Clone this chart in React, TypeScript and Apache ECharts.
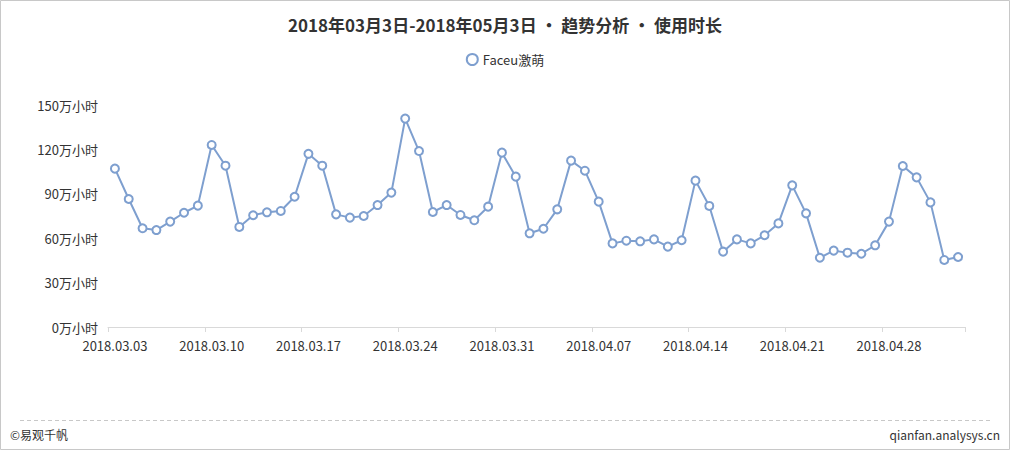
import React, { useEffect, useRef } from "react";
import * as echarts from "echarts";

const seriesName = "Faceu激萌";
const titleText = "2018年03月3日-2018年05月3日 • 趋势分析 • 使用时长";

function buildDates(): string[] {
  // calendar days from 2018-03-03 to 2018-05-03 (category labels)
  const out: string[] = [];
  const mar = 31, apr = 30;
  for (let d = 3; d <= mar; d++) out.push(`2018.03.${String(d).padStart(2, "0")}`);
  for (let d = 1; d <= apr; d++) out.push(`2018.04.${String(d).padStart(2, "0")}`);
  for (let d = 1; d <= 3; d++) out.push(`2018.05.${String(d).padStart(2, "0")}`);
  return out;
}
const categories = buildDates();

const usageValues = [
  107, 86.5, 66.7, 65.5, 71.2, 77.2, 82, 123, 109, 67.6,
  75.5, 77.5, 78.4, 88, 117, 109, 76.1, 73.9, 75, 82.4,
  90.8, 140.8, 118.9, 77.7, 82.4, 75.7, 72.1, 81.3, 117.8, 101.6,
  63.3, 66.4, 79.5, 112.4, 105.6, 84.7, 56.5, 58.3, 57.9, 59.2,
  54.3, 58.6, 98.9, 81.8, 50.9, 59.2, 56.5, 62, 70, 95.7,
  76.8, 46.8, 51.6, 50.2, 49.5, 55.2, 71.2, 108.8, 101.1, 84.2,
  45.3, 47.3,
];

const yUnit = "万小时";

export default function App() {
  const ref = useRef<HTMLDivElement>(null);
  useEffect(() => {
    if (!ref.current) return;
    const chart = echarts.init(ref.current, undefined, { renderer: "svg" });
    const font = "'Noto Sans CJK SC', 'Noto Sans', sans-serif";
    chart.setOption({
      animation: false,
      backgroundColor: "#ffffff",
      textStyle: { fontFamily: font },
      title: {
        text: titleText,
        left: "center",
        top: 11,
        textStyle: { fontSize: 17, fontWeight: "bold", color: "#333", fontFamily: font },
      },
      legend: {
        data: [seriesName],
        top: 48,
        left: "center",
        icon: "emptyCircle",
        itemWidth: 11,
        itemHeight: 11,
        itemGap: 10,
        textStyle: { fontSize: 13, color: "#333", fontFamily: font },
      },
      grid: { left: 108, right: 45, top: 105, bottom: 123 },
      xAxis: {
        type: "category",
        data: categories,
        boundaryGap: true,
        axisLine: { lineStyle: { color: "#d9d9d9" } },
        axisTick: { show: true, interval: 6, lineStyle: { color: "#d9d9d9" } },
        axisLabel: { interval: 6, fontSize: 13, color: "#333", margin: 12, fontFamily: font },
      },
      yAxis: {
        type: "value",
        min: 0,
        max: 150,
        interval: 30,
        axisLine: { show: false },
        axisTick: { show: false },
        splitLine: { show: false },
        axisLabel: {
          fontSize: 13,
          color: "#333",
          margin: 10,
          fontFamily: font,
          formatter: (v: number) => `${v}${yUnit}`,
        },
      },
      series: [
        {
          name: seriesName,
          type: "line",
          data: usageValues,
          symbol: "emptyCircle",
          symbolSize: 8,
          showSymbol: true,
          lineStyle: { color: "#7e9fcf", width: 2 },
          itemStyle: { color: "#7e9fcf", borderColor: "#7e9fcf", borderWidth: 1.5 },
        },
      ],
      graphic: [
        {
          type: "rect",
          shape: { x: 0.5, y: 0.5, width: 1009, height: 449 },
          style: { fill: "none", stroke: "#c8c8c8", lineWidth: 1 },
          silent: true,
        },
        {
          type: "line",
          shape: { x1: 20, y1: 420.5, x2: 990, y2: 420.5 },
          style: { stroke: "#c8c8c8", lineWidth: 1, lineDash: [4, 3] },
          silent: true,
        },
        {
          type: "text",
          left: 10,
          top: 428,
          style: { text: "©易观千帆", fontSize: 12, fill: "#333", fontFamily: font },
        },
        {
          type: "text",
          right: 10,
          top: 428,
          style: { text: "qianfan.analysys.cn", fontSize: 12, fill: "#333", fontFamily: font },
        },
      ],
    });
    return () => chart.dispose();
  }, []);
  return (
    <div
      ref={ref}
      style={{ position: "fixed", left: 0, top: 0, width: 1010, height: 450 }}
    />
  );
}
